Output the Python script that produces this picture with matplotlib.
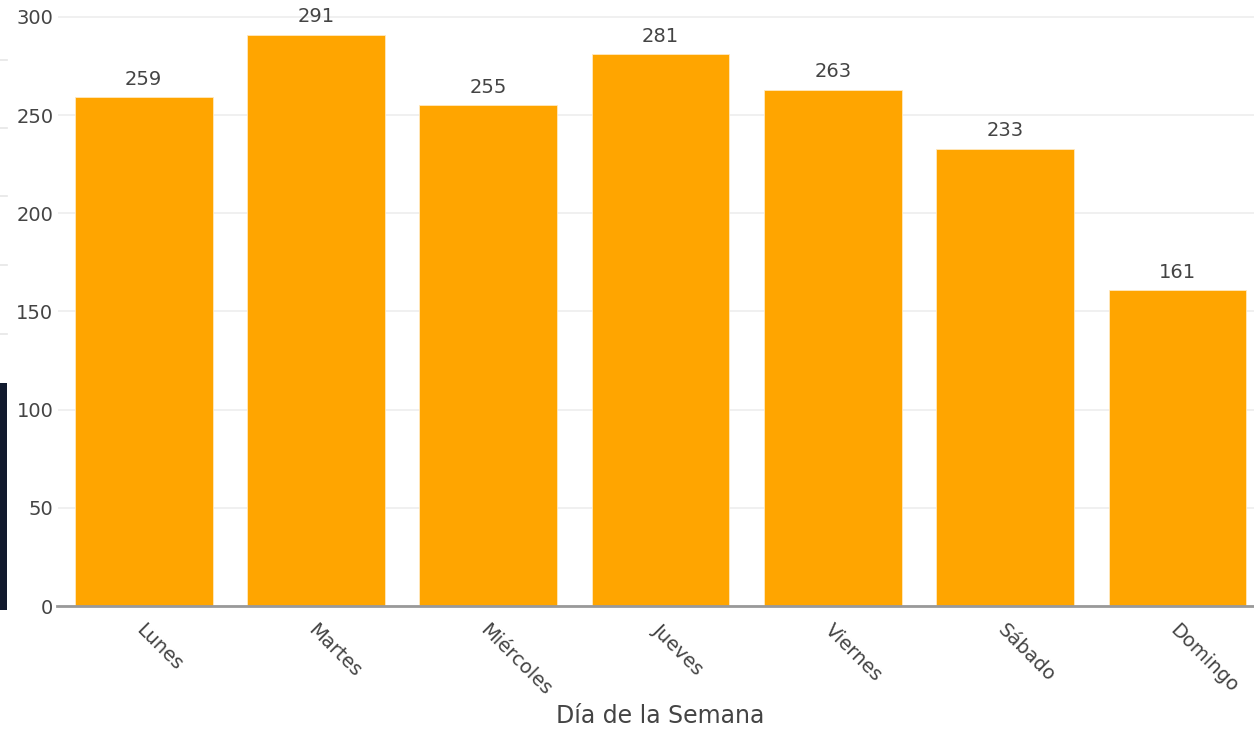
import matplotlib.pyplot as plt
import matplotlib.transforms as mtransforms
from matplotlib.patches import Rectangle
from matplotlib.lines import Line2D

# Datos
dias = ['Lunes', 'Martes', 'Miércoles', 'Jueves', 'Viernes', 'Sábado', 'Domingo']
valores = [259, 291, 255, 281, 263, 233, 161]
y_ticks = [0, 50, 100, 150, 200, 250, 300]

TXT = '#444444'
plt.rcParams['font.family'] = ['DejaVu Sans']

fig = plt.figure(figsize=(12.54, 7.31), dpi=100)
W, H = 1254, 731
# el area del grafico sobresale por la derecha (captura recortada)
x0, x1 = 57.5, 1263.6
y0, y1 = 606, 6
ax = fig.add_axes([x0 / W, 1 - y0 / H, (x1 - x0) / W, (y0 - y1) / H])

x = range(len(dias))
ax.bar(x, valores, width=0.8, color='#FFA500', edgecolor='#ffe9c0', linewidth=0.6, zorder=3)
for xi, v in zip(x, valores):
    ax.annotate(str(v), (xi, v), xytext=(0, 6), textcoords='offset points',
                ha='center', va='bottom', fontsize=14, color=TXT)

ax.set_xlim(-0.5, len(dias) - 0.5)
ax.set_ylim(0, 305.6)
ax.set_yticks(y_ticks)
ax.set_xticks(list(x))
ax.set_xticklabels(dias, rotation=-45, ha='left', va='center', rotation_mode='anchor')
ax.tick_params(axis='y', length=0, pad=3, labelsize=14, labelcolor=TXT)
ax.tick_params(axis='x', length=0, pad=15, labelsize=14, labelcolor=TXT)
desplaza = mtransforms.ScaledTranslation(-5 / 100, 0, fig.dpi_scale_trans)
for lbl in ax.get_xticklabels():
    lbl.set_transform(lbl.get_transform() + desplaza)

ax.grid(axis='y', color='#eeeeee', linewidth=1.2, zorder=0)
for s in ['top', 'right', 'left']:
    ax.spines[s].set_visible(False)
ax.spines['bottom'].set_color('#999999')
ax.spines['bottom'].set_linewidth(2)
ax.spines['bottom'].set_zorder(4)

fig.text(660 / W, 1 - 716 / H, 'Día de la Semana', ha='center', va='center', fontsize=17, color=TXT)

# restos de otro elemento en el borde izquierdo
fig.patches.append(Rectangle((0, 1 - 610 / H), 7 / W, 227 / H, transform=fig.transFigure,
                             facecolor='#111a2e', edgecolor='none'))
for yy in [60, 128, 196, 265, 334]:
    fig.lines.append(Line2D([0, 7 / W], [1 - yy / H] * 2, transform=fig.transFigure,
                            color='#e6e6e6', linewidth=1.2))

fig.savefig('out.png', dpi=100)
